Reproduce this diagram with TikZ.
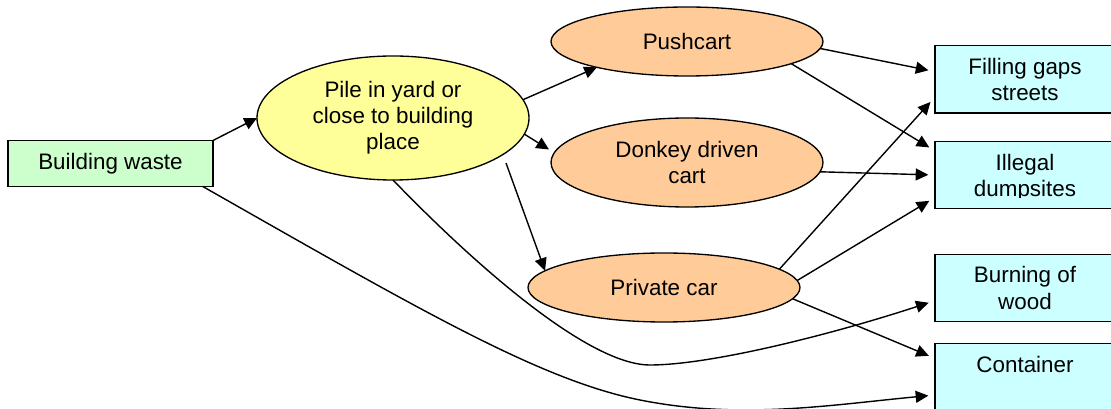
\documentclass[tikz,border=0pt]{standalone}
\usepackage{fontspec}
\setmainfont{Liberation Sans}
\usetikzlibrary{arrows.meta,shapes.geometric}
\definecolor{wgreen}{HTML}{CCFFCC}
\definecolor{wyellow}{HTML}{FFFF99}
\definecolor{worange}{HTML}{FFCC99}
\definecolor{wcyan}{HTML}{CCFFFF}
\begin{document}
\begin{tikzpicture}[x=0.75pt,y=-0.75pt,
  every node/.style={font=\fontsize{16.8pt}{19.6pt}\selectfont, align=center, inner sep=0pt, outer sep=0pt},
  srcbox/.style={draw=black, line width=1pt, rectangle, fill=wgreen, minimum width=153.75pt, minimum height=34.5pt},
  pilenode/.style={draw=black, line width=1pt, ellipse, fill=wyellow, minimum width=204pt, minimum height=93pt},
  vehicle/.style={draw=black, line width=1pt, ellipse, fill=worange, minimum width=204pt},
  destbox/.style={draw=black, line width=1pt, rectangle, fill=wcyan, minimum width=135pt, minimum height=50.5pt},
  conn/.style={line width=1.05pt, -{Triangle[length=9.5pt,width=9pt]}},
  tobox/.style={conn, shorten >=5pt}]
\useasboundingbox (0,0) rectangle (1111,409);
\fill[white] (0,0) rectangle (1111,409);

\node[srcbox] (bw) at (110.5,163.5) {Building waste};
\node[pilenode] (pile) at (393,118) {Pile in yard or\\close to building\\place};
\node[vehicle, minimum height=51.75pt] (push) at (687,41.5) {Pushcart};
\node[vehicle, minimum height=66.75pt] (donk) at (687,162.5) {Donkey driven\\cart};
\node[vehicle, minimum height=51.75pt] (car) at (664,287.5) {Private car};

\node[destbox] (fill) at (1025,79.5) {Filling gaps\\streets};
\node[destbox] (ill) at (1025,175) {};
\begin{scope}
  \clip (ill.north west) rectangle ([yshift=8.4pt]ill.south east);
  \node (illtext) at ([yshift=-1.8pt]ill.center) {Illegal\\dumpsites};
\end{scope}
\node[destbox] (burn) at (1025,288) {Burning of\\wood};
\node[destbox] (cont) at (1025,377.5) {Container\\\mbox{}};

\draw[conn] (bw.north east) -- (pile.west);
\draw[tobox] (bw.-14) .. controls (420,310) and (540,380) .. (640,400)
   .. controls (740,420) and (830,405) .. (cont.191);
\draw[conn] (pile.8) -- (push.196);
\draw[conn] (pile.-7) -- ([shift={(-2,-13)}]donk.west);
\draw[conn] ([shift={(113,45)}]pile.center) -- (car.172);
\draw[tobox] (pile.south) .. controls (480,270) and (590,365) .. (650,365)
   .. controls (710,365) and (830,335) .. (burn.188);

\draw[tobox] (push.-3) -- (fill.175);
\draw[tobox] (push.-12) -- (ill.165);
\draw[tobox] (donk.-4) -- (ill.180);
\draw[tobox] (car.9) -- (fill.191);
\draw[tobox] (car.3) -- (ill.194);
\draw[tobox] (car.-5) -- (cont.168);
\end{tikzpicture}
\end{document}
